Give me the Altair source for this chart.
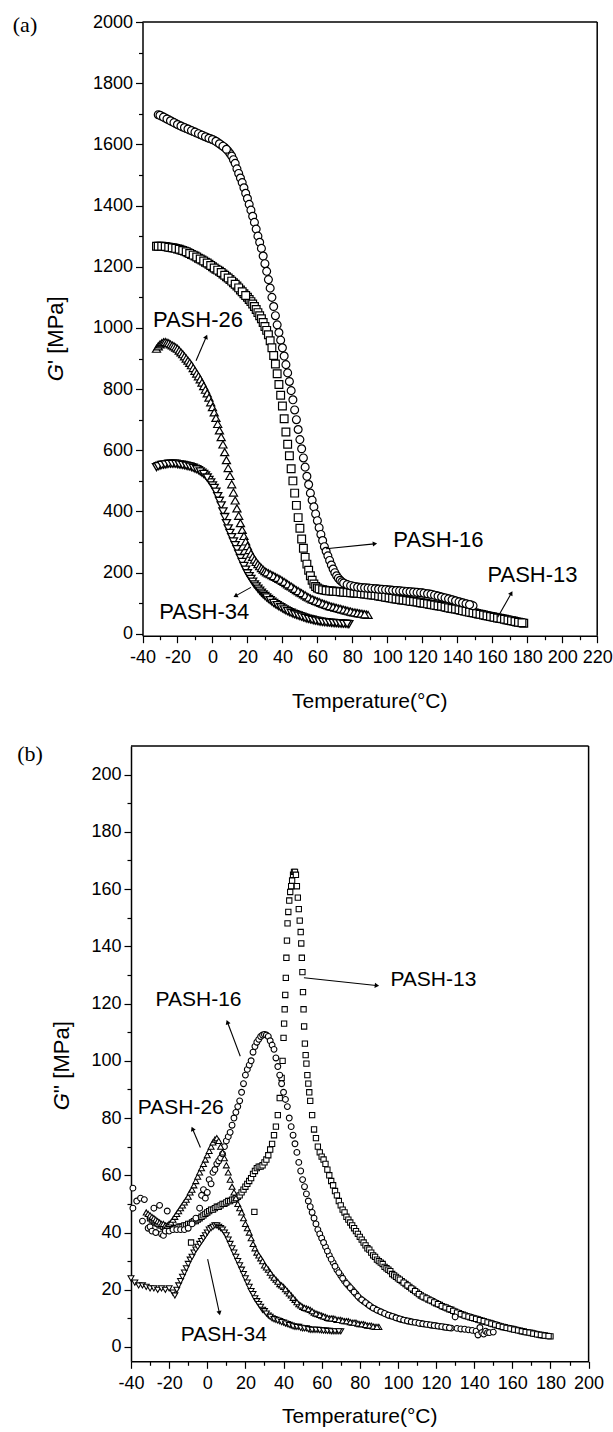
import math
import altair as alt
import pandas as pd

SANS = "Liberation Sans"
SERIF = "Liberation Serif"

# ---------------- Panel (a): G' [MPa] vs temperature ----------------
A13_T = [-32, -30, -28, -26, -24, -22, -20, -18, -16, -14, -12, -10, -8, -6, -4, -2, 0, 2, 4, 6, 8, 10, 12, 14, 16, 18, 20,
         21, 22, 23, 24, 25, 26, 27, 28, 29, 30, 31, 32, 33, 34, 35, 36, 37, 38, 39, 40,
         41, 42, 43, 44, 45, 46, 47, 48, 49, 50, 51, 52, 53, 54, 55, 56, 57, 58, 59, 60,
         62, 64, 66, 68, 70, 72, 74, 76, 78, 80, 82, 84, 86, 88, 90, 92, 94, 96, 98, 100,
         102, 104, 106, 108, 110, 112, 114, 116, 118, 120, 122, 124, 126, 128, 130, 132, 134, 136, 138, 140,
         142, 144, 146, 148, 150, 152, 154, 156, 158, 160, 162, 164, 166, 168, 170, 172, 174, 176, 178]
A13_G = [1267, 1267, 1266, 1265, 1263, 1261, 1258, 1255, 1251, 1246, 1240, 1235, 1228, 1222, 1215, 1208, 1200, 1192, 1185, 1176, 1167, 1158, 1148, 1137, 1124, 1112, 1100,
         1093, 1086, 1078, 1070, 1060, 1050, 1040, 1030, 1018, 1005, 992, 978, 958, 935, 910, 882, 850, 815, 780, 745,
         703, 660, 620, 582, 540, 500, 460, 420, 380, 345, 310, 280, 250, 228, 208, 190, 175, 163, 155, 150,
         145, 143, 141, 140, 139, 138, 137, 136, 135, 134, 133, 132, 131, 130, 128, 127, 125, 123, 121, 119,
         117, 115, 113, 111, 110, 108, 106, 105, 103, 101, 99, 97, 95, 93, 91, 89, 86, 84, 82, 80,
         77, 75, 72, 70, 68, 65, 63, 60, 58, 56, 53, 51, 49, 46, 44, 42, 39, 37, 35]
A13_T_ODD = [-31, -29, -27, -25, -23, -21, -19, -17, -15, -13, -11, -9, -7, -5, -3, -1, 1, 3, 5, 7, 9, 11, 13, 15, 17, 19,
             61, 63, 65, 67, 69, 71, 73, 75, 77, 79, 81, 83, 85, 87, 89, 91, 93, 95, 97, 99,
             101, 103, 105, 107, 109, 111, 113, 115, 117, 119, 121, 123, 125, 127, 129, 131, 133, 135, 137, 139,
             141, 143, 145, 147, 149, 151, 153, 155, 157, 159, 161, 163, 165, 167, 169, 171, 173, 175, 177]
A13_G_ODD = [1267, 1267, 1266, 1264, 1262, 1260, 1257, 1253, 1249, 1243, 1238, 1232, 1225, 1219, 1212, 1204, 1196, 1189, 1181, 1172, 1163, 1153, 1143, 1131, 1118, 1106,
             147, 144, 142, 140.5, 139.5, 138.5, 137.5, 136.5, 135.5, 134.5, 133.5, 132.5, 131.5, 130.5, 129, 127.5, 126, 124, 122, 120,
             118, 116, 114, 112, 110.5, 109, 107, 105.5, 104, 102, 100, 98, 96, 94, 92, 90, 87.5, 85, 83, 81,
             78.5, 76, 73.5, 71, 69, 66.5, 64, 61.5, 59, 57, 54.5, 52, 50, 47.5, 45, 43, 40.5, 38, 36]

A16_T = [-31, -29, -27, -25, -23, -21, -19, -17, -15, -13, -11, -9, -7, -5, -3, -1, 1, 3, 5, 7, 9,
         10, 11, 12, 13, 14, 15, 16, 17, 18, 19, 20, 21, 22, 23, 24, 25, 26, 27, 28, 29,
         30, 31, 32, 33, 34, 35, 36, 37, 38, 39, 40, 41, 42, 43, 44, 45, 46, 47, 48, 49,
         50, 51, 52, 53, 54, 55, 56, 57, 58, 59, 60, 61, 62, 63, 64, 65, 66, 67, 68, 69,
         70, 71, 72, 73, 74,
         76, 78, 80, 82, 84, 86, 88, 90, 92, 94, 96, 98, 100, 102, 104, 106, 108, 110, 112, 114,
         116, 118, 120, 122, 124, 126, 128, 130, 132, 134, 136, 138, 140, 142, 144, 146, 148, 149]
A16_G = [1697, 1692, 1686, 1680, 1674, 1668, 1662, 1657, 1652, 1647, 1642, 1637, 1632, 1627, 1622, 1618, 1613, 1606, 1598, 1590, 1578,
         1570, 1562, 1550, 1538, 1520, 1505, 1490, 1475, 1458, 1440, 1423, 1404, 1385, 1365, 1345, 1323, 1300, 1280, 1260, 1235,
         1210, 1185, 1158, 1130, 1100, 1070, 1040, 1010, 985, 960, 935, 908, 880, 853, 825, 795, 765, 732, 700, 668,
         635, 605, 575, 545, 515, 488, 460, 437, 415, 392, 370, 347, 325, 305, 285, 270, 255, 240, 225, 212,
         200, 190, 182, 175, 170,
         163, 159, 156, 154, 152, 151, 150, 149, 148, 147, 146, 145, 144, 143, 142, 141, 140, 139, 138, 137,
         136, 135, 134, 132, 130, 128, 125, 122, 119, 116, 113, 110, 106, 103, 100, 97, 94, 92]
A16_T_ODD = [-30, -28, -26, -24, -22, -20, -18, -16, -14, -12, -10, -8, -6, -4, -2, 0, 2, 4, 6, 8,
             75, 77, 79, 81, 83, 85, 87, 89, 91, 93, 95, 97, 99, 101, 103, 105, 107, 109, 111, 113,
             115, 117, 119, 121, 123, 125, 127, 129, 131, 133, 135, 137, 139, 141, 143, 145, 147]
A16_G_ODD = [1695, 1689, 1683, 1677, 1671, 1665, 1660, 1655, 1650, 1645, 1640, 1635, 1630, 1625, 1620, 1616, 1610, 1602, 1594, 1584,
             166, 161, 157.5, 155, 153, 151.5, 150.5, 149.5, 148.5, 147.5, 146.5, 145.5, 144.5, 143.5, 142.5, 141.5, 140.5, 139.5, 138.5, 137.5,
             136.5, 135.5, 134.5, 133, 131, 129, 126.5, 123.5, 120.5, 117.5, 114.5, 111.5, 108, 104.5, 101.5, 98.5, 95.5]

A26_T = [-32, -31, -30, -29, -28, -27, -26, -25, -24, -23, -22, -21, -20, -19, -18, -17, -16, -15, -14, -13,
         -12, -11, -10, -9, -8, -7, -6, -5, -4, -3, -2, -1, 0, 1, 2, 3, 4, 5, 6, 7,
         8, 9, 10, 11, 12, 13, 14, 15, 16, 17, 18, 19, 20, 21, 22, 23, 24, 25, 26, 27, 28, 29, 30,
         32, 34, 36, 38, 40, 42, 44, 46, 48, 50, 52, 54, 56, 58, 60, 62, 64, 66, 68, 70,
         72, 74, 76, 78, 80, 82, 84, 86, 88, 89]
A26_G = [932, 940, 946, 950, 953, 954, 952, 950, 946, 943, 940, 936, 932, 926, 920, 914, 907, 900, 893, 886,
         878, 869, 860, 851, 842, 832, 821, 810, 798, 786, 772, 757, 741, 724, 706, 686, 665, 643, 619, 594,
         568, 542, 516, 489, 462, 436, 410, 386, 362, 340, 320, 302, 287, 274, 262, 252, 243, 235, 228, 221, 215, 210, 205,
         198, 192, 186, 180, 173, 166, 158, 151, 143, 136, 129, 122, 116, 111, 106, 101, 97, 93, 89, 86,
         83, 80, 77, 74, 71, 69, 67, 65, 63, 62]
A26_T_ODD = [31, 33, 35, 37, 39, 41, 43, 45, 47, 49, 51, 53, 55, 57, 59, 61, 63, 65, 67, 69,
             71, 73, 75, 77, 79, 81, 83, 85, 87]
A26_G_ODD = [201, 195, 189, 183, 177, 170, 162, 155, 147, 140, 133, 126, 119, 113, 108, 104, 99, 95, 91, 88,
             85, 82, 79, 76, 73, 70, 68, 66, 64]

A34_T = [-32, -30, -28, -26, -24, -22, -20, -18, -16, -14, -12, -10, -8, -6, -4, -2,
         -1, 0, 1, 2, 3, 4, 5, 6, 7, 8, 9, 10, 11, 12, 13, 14, 15, 16, 17, 18,
         19, 20, 21, 22, 23, 24, 25, 26, 27, 28, 29, 30,
         32, 34, 36, 38, 40, 42, 44, 46, 48, 50, 52, 54, 56, 58, 60, 62, 64, 66, 68, 70, 72, 74, 76, 78]
A34_G = [545, 550, 553, 555, 556, 556, 555, 553, 551, 548, 545, 540, 535, 527, 518, 503,
         495, 485, 477, 465, 450, 435, 420, 400, 382, 362, 345, 330, 316, 302, 290, 277, 262, 248, 235, 222,
         210, 198, 189, 180, 171, 162, 155, 148, 141, 135, 129, 124,
         114, 105, 97, 90, 83, 77, 71, 66, 62, 58, 54, 50, 47, 44, 42, 40, 38, 37, 36, 35, 34, 33, 33, 32]
A34_T_ODD = [-31, -29, -27, -25, -23, -21, -19, -17, -15, -13, -11, -9, -7, -5, -3,
             31, 33, 35, 37, 39, 41, 43, 45, 47, 49, 51, 53, 55, 57, 59, 61, 63, 65, 67, 69, 71, 73, 75, 77]
A34_G_ODD = [548, 552, 554, 556, 556, 556, 554, 552, 550, 547, 543, 538, 531, 523, 511,
             119, 110, 101, 94, 87, 80, 74, 69, 64, 60, 56, 52, 49, 46, 43, 41, 39, 38, 37, 36, 35, 34, 33, 32.5]

# ---------------- Panel (b): G'' [MPa] vs temperature ----------------
B13_T = [-30, -29, -28, -27, -26, -25, -24, -23, -22, -21, -20, -19, -18, -17, -16, -15, -14, -13, -12, -11,
         -10, -9, -8, -7, -6, -5, -4, -3, -2, -1, 0, 1, 2, 3, 4, 5, 6, 7, 8, 9,
         10, 11, 12, 13, 14, 15, 16, 17, 18, 19, 20, 21, 22, 23, 24, 25, 26, 27, 28, 29,
         30, 31, 32, 33, 34, 35, 36, 37, 38, 39,
         39.5, 40, 40.3, 40.6, 40.9, 41.2, 41.5, 41.8, 42.1, 42.5, 43, 43.5, 44, 44.5, 45, 45.5, 46, 46.5, 47, 47.5,
         48, 48.5, 49, 49.3, 49.6, 49.9, 50.2, 50.5, 50.8, 51.2, 51.6, 52, 52.5, 53, 53.5,
         54, 55, 56, 57, 58, 59, 60, 61, 62, 63, 64, 65, 66, 67, 68, 69, 70, 71, 72, 73,
         74, 75, 76, 77, 78, 79, 80, 81, 82, 83, 84, 85, 86, 87, 88, 89, 90, 91, 92, 93,
         94, 95, 96, 97, 98, 99, 100,
         102, 104, 106, 108, 110, 112, 114, 116, 118, 120, 122, 124, 126, 128, 130, 132, 134, 136, 138, 140,
         142, 144, 146, 148, 150, 152, 154, 156, 158, 160, 162, 164, 166, 168, 170, 172, 174, 176, 178, 180,
         -8.5, 24.7]
B13_G = [45, 44.5, 44, 43.5, 43, 42.5, 42.5, 42, 42, 41.5, 41.5, 41.5, 41.5, 41.5, 41.5, 42, 42, 42, 42.5, 42.5,
         43, 43, 43.5, 44, 44, 44.5, 45, 45.5, 46, 46.5, 47, 47.5, 48, 48, 48.5, 49, 49, 49.5, 50, 50,
         50.5, 51, 51, 51.5, 51.5, 52, 52.5, 53, 54, 55, 56, 57, 58, 59, 60.5, 61.5, 62.5, 63, 63, 63.5,
         64.5, 65.5, 67, 69, 71, 74, 77, 81, 87, 94,
         100, 108, 113, 118, 123, 129, 136, 142, 148, 152, 156, 159, 161, 163, 165, 166, 166, 165, 161, 157,
         153, 149, 145, 141, 136, 131, 124, 118, 112, 106, 102, 99, 95, 92, 89,
         86, 81, 76, 73, 70, 68, 66.5, 65.5, 64, 62, 60, 58, 56.5, 54.5, 53, 51, 49.5, 48, 47, 45.5,
         44.5, 43.5, 42.5, 41.5, 40.5, 39.5, 38.5, 37.5, 36.5, 35.5, 34.5, 34, 33, 32, 31.5, 30.5, 30, 29.5, 29, 28,
         27.5, 27, 26.5, 25.5, 25, 24.5, 24,
         23, 22, 21, 20, 19, 18, 17.3, 16.6, 16, 15.3, 14.7, 14, 13.5, 13, 12.3, 11.8, 11.3, 10.8, 10.4, 10,
         9.6, 9.2, 8.8, 8.4, 8, 7.6, 7.2, 6.9, 6.6, 6.3, 6, 5.7, 5.4, 5.1, 4.9, 4.6, 4.3, 4.1, 3.9, 3.7,
         36.5, 47.2]
B13_T_ODD = [101, 103, 105, 107, 109, 111, 113, 115, 117, 119, 121, 123, 125, 127, 129, 131, 133, 135, 137, 139,
             141, 143, 145, 147, 149, 151, 153, 155, 157, 159, 161, 163, 165, 167, 169, 171, 173, 175, 177, 179]
B13_G_ODD = [23.5, 22.5, 21.5, 20.5, 19.5, 18.5, 17.6, 17, 16.3, 15.6, 15, 14.3, 13.8, 13.2, 12.6, 12, 11.5, 11, 10.6, 10.2,
             9.8, 9.4, 9, 8.6, 8.2, 7.8, 7.4, 7, 6.7, 6.4, 6.1, 5.8, 5.5, 5.2, 5, 4.7, 4.4, 4.2, 4, 3.8]

B16_T = [-39, -39, -37, -35, -34, -33, -31, -30, -29, -28, -27, -26, -25, -24, -23, -22, -21, -20, -18, -16,
         -14, -12, -10, -8, -6, -4, -3, -2, -1, 0, 1, 2, 3, 4, 5, 6, 7, 8, 9, 10,
         11, 12, 13, 14, 15, 16, 17, 18, 19, 20, 21, 22, 23, 24, 25, 26, 27, 28, 29, 30,
         31, 32, 33, 34, 35, 36, 37, 38, 39, 40, 41, 42, 43, 44, 45, 46, 47, 48, 49, 50,
         51, 52, 53, 54, 55, 56, 57, 58, 59, 60, 62, 64, 66, 68, 70, 72, 74, 76, 78, 80,
         82, 84, 86, 88, 90, 92, 94, 96, 98, 100, 102, 104, 106, 108, 110, 112, 114, 116, 118, 120,
         122, 124, 126, 128, 130, 131, 133, 135, 137, 139, 141, 142, 143, 144, 145, 146, 147, 148, 150]
B16_G = [55.5, 48.5, 51, 52, 44, 51.5, 41.5, 42, 40.5, 48.5, 40, 43, 49.5, 39.5, 39, 40.5, 47.5, 40.5, 41, 41,
         41, 41, 41.5, 43, 45, 48.5, 53, 55, 52, 54, 58.5, 57, 61, 62, 64, 65, 66, 67.5, 70, 72,
         73.5, 75, 77.5, 80, 82, 84, 86, 89, 92, 95, 97, 98.5, 100, 103, 105, 106.5, 107.5, 108.5, 109, 109.2,
         109, 108.5, 107, 105.5, 104, 101, 98, 95, 92, 89, 86.5, 84, 80, 77, 74, 71, 68, 64.5, 61.5, 58.5,
         56, 53.5, 51, 49, 47, 45, 43, 41, 39.5, 38, 35, 32, 29.5, 27, 25, 23, 21.5, 20, 18.5, 17,
         16, 15, 14, 13.3, 12.6, 12, 11.4, 10.9, 10.5, 10, 9.6, 9.3, 9, 8.7, 8.5, 8.2, 8, 7.8, 7.6, 7.4,
         7.2, 7, 6.8, 6.6, 10.5, 6.5, 6.3, 6.2, 6, 5.8, 5.5, 4.2, 6.8, 5, 4.5, 5.5, 5, 5, 5.2]
B16_T_ODD = [61, 63, 65, 67, 69, 71, 73, 75, 77, 79, 81, 83, 85, 87, 89, 91, 93, 95, 97, 99,
             101, 103, 105, 107, 109, 111, 113, 115, 117, 119, 121, 123, 125, 127]
B16_G_ODD = [36.5, 33.5, 30.7, 28.2, 26, 24, 22.2, 20.7, 19.2, 17.7, 16.5, 15.5, 14.5, 13.6, 12.9, 12.3, 11.7, 11.1, 10.7, 10.2,
             9.8, 9.4, 9.1, 8.8, 8.6, 8.3, 8.1, 7.9, 7.7, 7.5, 7.3, 7.1, 6.9, 6.7]

B26_T = [-32, -31, -30, -29, -28, -27, -26, -25, -24, -23, -22, -21, -20, -19, -18, -17, -16, -15, -14, -13,
         -12, -11, -10, -9, -8, -7, -6, -5, -4, -3, -2, -1, 0, 1, 2, 3, 4, 5, 6, 7,
         8, 9, 10, 11, 12, 13, 14, 15, 16, 17, 18, 19, 20, 21, 22, 23, 24, 25, 26, 27, 28, 29, 30,
         32, 34, 36, 38, 40, 42, 44, 46, 48, 50, 52, 54, 56, 58, 60, 62, 64, 66, 68, 70,
         72, 74, 76, 78, 80, 82, 84, 86, 88, 90]
B26_G = [47, 46.5, 46, 45.5, 45, 44.5, 44, 43.5, 43, 43, 42.5, 42.5, 43, 43.5, 44.5, 45.5, 46.5, 47.5, 48.5, 49.5,
         50.5, 51.5, 52.5, 54, 55, 56.5, 58, 59.5, 61, 62.5, 64, 65.5, 67, 68.5, 70, 71.5, 72.5, 73, 72, 70,
         68, 66, 63.5, 61, 58.5, 56, 54, 52, 50, 48.5, 47, 45, 43, 41.5, 40, 38, 36, 34.5, 33, 32, 31, 30, 28.5,
         27, 25, 23.5, 22, 21, 19.5, 18, 16.5, 15, 14, 13.5, 13, 12, 11.5, 11, 10.5, 10, 10, 9.5, 9.5,
         9, 9, 8.5, 8.5, 8, 8, 7.5, 7.5, 7, 7]
B26_T_ODD = [31, 33, 35, 37, 39, 41, 43, 45, 47, 49, 51, 53, 55, 57, 59, 61, 63, 65, 67, 69,
             71, 73, 75, 77, 79, 81, 83, 85, 87, 89]
B26_G_ODD = [27.8, 26, 24.2, 22.8, 21.5, 20.2, 18.7, 17.2, 15.7, 14.5, 13.7, 13.2, 12.5, 11.7, 11.2, 10.7, 10.2, 10, 9.8, 9.5,
             9.2, 9, 8.7, 8.5, 8.2, 8, 7.7, 7.5, 7.2, 7]

B34_T = [-40, -38, -36, -34, -32, -30, -28, -26, -24, -22, -20, -18, -17, -16, -15, -14, -13, -12, -11, -10,
         -9, -8, -7, -6, -5, -4, -3, -2, -1, 0, 1, 2, 3, 4, 5, 6, 7, 8, 9, 10,
         11, 12, 13, 14, 15, 16, 17, 18, 19, 20, 21, 22, 23, 24, 25, 26, 27, 28, 29, 30,
         32, 34, 36, 38, 40, 42, 44, 46, 48, 50, 52, 54, 56, 58, 60, 62, 64, 66, 68, 70]
B34_G = [24, 22.5, 21.5, 21.5, 21, 20.5, 20.5, 20, 20.5, 20, 20.5, 19, 18, 20, 21.5, 23, 24.5, 26, 27.5, 29,
         30.5, 31.5, 33, 34, 35, 36, 37, 38, 39, 40, 41, 41.5, 42, 42.5, 42.5, 42, 41.5, 41, 40, 39,
         37.5, 36, 34.5, 33, 31.5, 30, 28.5, 27, 25.5, 24, 22.5, 21, 19.5, 18.5, 17, 16, 15, 14, 13, 12.5,
         11, 10, 9.5, 9, 8.5, 8, 7.5, 7, 7, 6.5, 6.5, 6, 6, 6, 5.8, 5.7, 5.6, 5.5, 5.5, 5.5]
B34_T_ODD = [31, 33, 35, 37, 39, 41, 43, 45, 47, 49, 51, 53, 55, 57, 59, 61, 63, 65, 67, 69]
B34_G_ODD = [11.7, 10.5, 9.7, 9.2, 8.7, 8.2, 7.7, 7.2, 7, 6.7, 6.5, 6.2, 6, 6, 5.9, 5.7, 5.6, 5.5, 5.5, 5.5]

# ---------------- annotations ----------------
LAB = ["PASH-26", "PASH-34", "PASH-16", "PASH-13"]
A_LAB_T = [-8.3, -4.7, 129.2, 183]
A_LAB_G = [1027, 71, 307, 191]
A_ARR_T1 = [-9.4, 22, 64.9, 163.1]
A_ARR_G1 = [893, 152, 278, 54]
A_ARR_T2 = [-3.7, 13.5, 92.5, 170.7]
A_ARR_G2 = [969, 125, 294, 131]

B_LAB = ["PASH-13", "PASH-16", "PASH-26", "PASH-34"]
B_LAB_T = [118.6, -4.6, -13.9, 8.7]
B_LAB_G = [128.4, 121.4, 83.4, 4.3]
B_ARR_T1 = [50.7, 17.3, -3.6, 0.2]
B_ARR_G1 = [129, 101.6, 69.7, 30.7]
B_ARR_T2 = [88.6, 10.7, -7.6, 6.3]
B_ARR_G2 = [126.3, 113.3, 76, 12.1]

# axis ticks
XT_A = [-40, -30, -20, -10, 0, 10, 20, 30, 40, 50, 60, 70, 80, 90, 100, 110, 120, 130, 140, 150, 160, 170, 180, 190, 200, 210, 220]
YT_A = [0, 100, 200, 300, 400, 500, 600, 700, 800, 900, 1000, 1100, 1200, 1300, 1400, 1500, 1600, 1700, 1800, 1900, 2000]
XT_B = [-40, -30, -20, -10, 0, 10, 20, 30, 40, 50, 60, 70, 80, 90, 100, 110, 120, 130, 140, 150, 160, 170, 180, 190, 200]
YT_B = [0, 10, 20, 30, 40, 50, 60, 70, 80, 90, 100, 110, 120, 130, 140, 150, 160, 170, 180, 190, 200]

# ---------------- geometry / style ----------------
AX0 = 11.5
AW, AH = 454.7, 613.7
BW, BH = 457.6, 615.3
XD_A, YD_A = [-40, 220], [-6, 2000]
XD_B, YD_B = [-40, 200], [-5, 210]


def make_axis(values, major, orient, offset=0.0, pad=3):
    test = f"datum.value % {major} === 0"
    return alt.Axis(values=values, orient=orient, offset=offset, grid=False, title=None,
                    labelExpr=f"{test} ? '' + datum.value : ''",
                    tickSize={"condition": {"test": test, "value": 7}, "value": 4},
                    tickColor="black", tickWidth=1.2, domainColor="black", domainWidth=1.5,
                    labelFont=SANS, labelFontSize=18, labelColor="black", labelPadding=pad,
                    labelOverlap=False, labelFlush=False)


def panel(xdom, ydom, xrange, width, height, xt, yt, ymajor, yoff, series,
          lab, lab_t, lab_g, at1, ag1, at2, ag2, lab_fs, outside):
    xs = alt.Scale(domain=xdom, range=xrange, nice=False, zero=False)
    ys = alt.Scale(domain=ydom, nice=False, zero=False)
    ax = make_axis(xt, 20, "bottom", 0.0, 6)
    ay = make_axis(yt, ymajor, "left", yoff, 3)
    pxT = (xrange[1] - xrange[0]) / (xdom[1] - xdom[0])
    pxG = height / (ydom[1] - ydom[0])

    def X(f):
        return alt.X(f, type="quantitative", scale=xs, axis=ax)

    def Y(f):
        return alt.Y(f, type="quantitative", scale=ys, axis=ay)

    layers = []
    for T, G, shape, size, sw in series:
        df = pd.DataFrame({"T": T, "G": G})
        layers.append(alt.Chart(df).mark_point(shape=shape, size=size, filled=True, fill="white",
                                               stroke="black", strokeWidth=sw, opacity=1,
                                               fillOpacity=1, strokeOpacity=1, clip=False)
                      .encode(x=X("T"), y=Y("G")))
    arr = pd.DataFrame({"T": at1, "G": ag1, "T2": at2, "G2": ag2})
    arr["ang"] = [(math.degrees(math.atan2((b - a) * pxT, (d - c) * pxG)) + 360) % 360
                  for a, b, c, d in zip(at1, at2, ag1, ag2)]
    layers.append(alt.Chart(arr).mark_rule(color="black", strokeWidth=1.1)
                  .encode(x=X("T"), y=Y("G"), x2="T2:Q", y2="G2:Q"))
    layers.append(alt.Chart(arr).mark_point(shape="triangle", size=26, filled=True, color="black", opacity=1)
                  .encode(x=X("T2"), y=Y("G2"), angle=alt.Angle("ang:Q", scale=None)))
    labs = pd.DataFrame({"T": lab_t, "G": lab_g, "t": lab})
    layers.append(alt.Chart(labs).mark_text(font=SANS, fontSize=lab_fs, color="black",
                                            align="center", baseline="middle")
                  .encode(x=X("T"), y=Y("G"), text="t:N"))
    frame = pd.DataFrame({"T": [xdom[0], xdom[1]], "G": [ydom[1], ydom[0]],
                          "T2": [xdom[1], xdom[1]], "G2": [ydom[1], ydom[1]]})
    layers.append(alt.Chart(frame).mark_rule(color="black", strokeWidth=1.5)
                  .encode(x=X("T"), y=Y("G"), x2="T2:Q", y2="G2:Q"))
    for txt, px, py, font, fs, style, ang, align in outside:
        kw = dict(font=font, fontSize=fs, color="black", align=align, baseline="middle")
        if style:
            kw["fontStyle"] = style
        if ang:
            kw["angle"] = ang
        layers.append(alt.Chart(pd.DataFrame({"t": [txt]})).mark_text(**kw)
                      .encode(x=alt.value(px), y=alt.value(py), text="t:N"))
    return alt.layer(*layers).properties(width=width, height=height)


SER_A = [(A13_T + A13_T_ODD, A13_G + A13_G_ODD, "square", 60, 1.2),
         (A16_T + A16_T_ODD, A16_G + A16_G_ODD, "circle", 62, 1.2),
         (A26_T + A26_T_ODD, A26_G + A26_G_ODD, "triangle-up", 66, 1.2),
         (A34_T + A34_T_ODD, A34_G + A34_G_ODD, "triangle-down", 66, 1.3)]
SER_B = [(B13_T + B13_T_ODD, B13_G + B13_G_ODD, "square", 28, 1.05),
         (B16_T + B16_T_ODD, B16_G + B16_G_ODD, "circle", 34, 1.05),
         (B26_T + B26_T_ODD, B26_G + B26_G_ODD, "triangle-up", 36, 1.05),
         (B34_T + B34_T_ODD, B34_G + B34_G_ODD, "triangle-down", 36, 1.05)]

OUT_A = [("(a)", -106, 2.7, SERIF, 22, None, 0, "center"),
         ("G", -75, 342.1, SANS, 22, "italic", 270, "right"),
         ("' [MPa]", -75, 342.1, SANS, 22, None, 270, "left"),
         ("Temperature(°C)", 238.8, 679.7, SANS, 21, None, 0, "center")]
OUT_B = [("(b)", -101, 8.3, SERIF, 22, None, 0, "center"),
         ("G", -69.4, 347.2, SANS, 22, "italic", 270, "right"),
         ("'' [MPa]", -69.4, 347.2, SANS, 22, None, 270, "left"),
         ("Temperature(°C)", 228.8, 671.3, SANS, 21, None, 0, "center")]

pa = panel(XD_A, YD_A, [AX0, AX0 + AW], AX0 + AW, AH, XT_A, YT_A, 200, -AX0, SER_A,
           LAB, A_LAB_T, A_LAB_G, A_ARR_T1, A_ARR_G1, A_ARR_T2, A_ARR_G2, 22, OUT_A)
pb = panel(XD_B, YD_B, [0, BW], BW, BH, XT_B, YT_B, 20, 0, SER_B,
           B_LAB, B_LAB_T, B_LAB_G, B_ARR_T1, B_ARR_G1, B_ARR_T2, B_ARR_G2, 21, OUT_B)

chart = (alt.vconcat(pa, pb, spacing=31)
         .properties(padding={"left": 12, "top": 13, "right": 0, "bottom": 0}, background="white")
         .configure_view(stroke=None))

chart.save("out.html", embed_options={"renderer": "svg", "actions": False})
